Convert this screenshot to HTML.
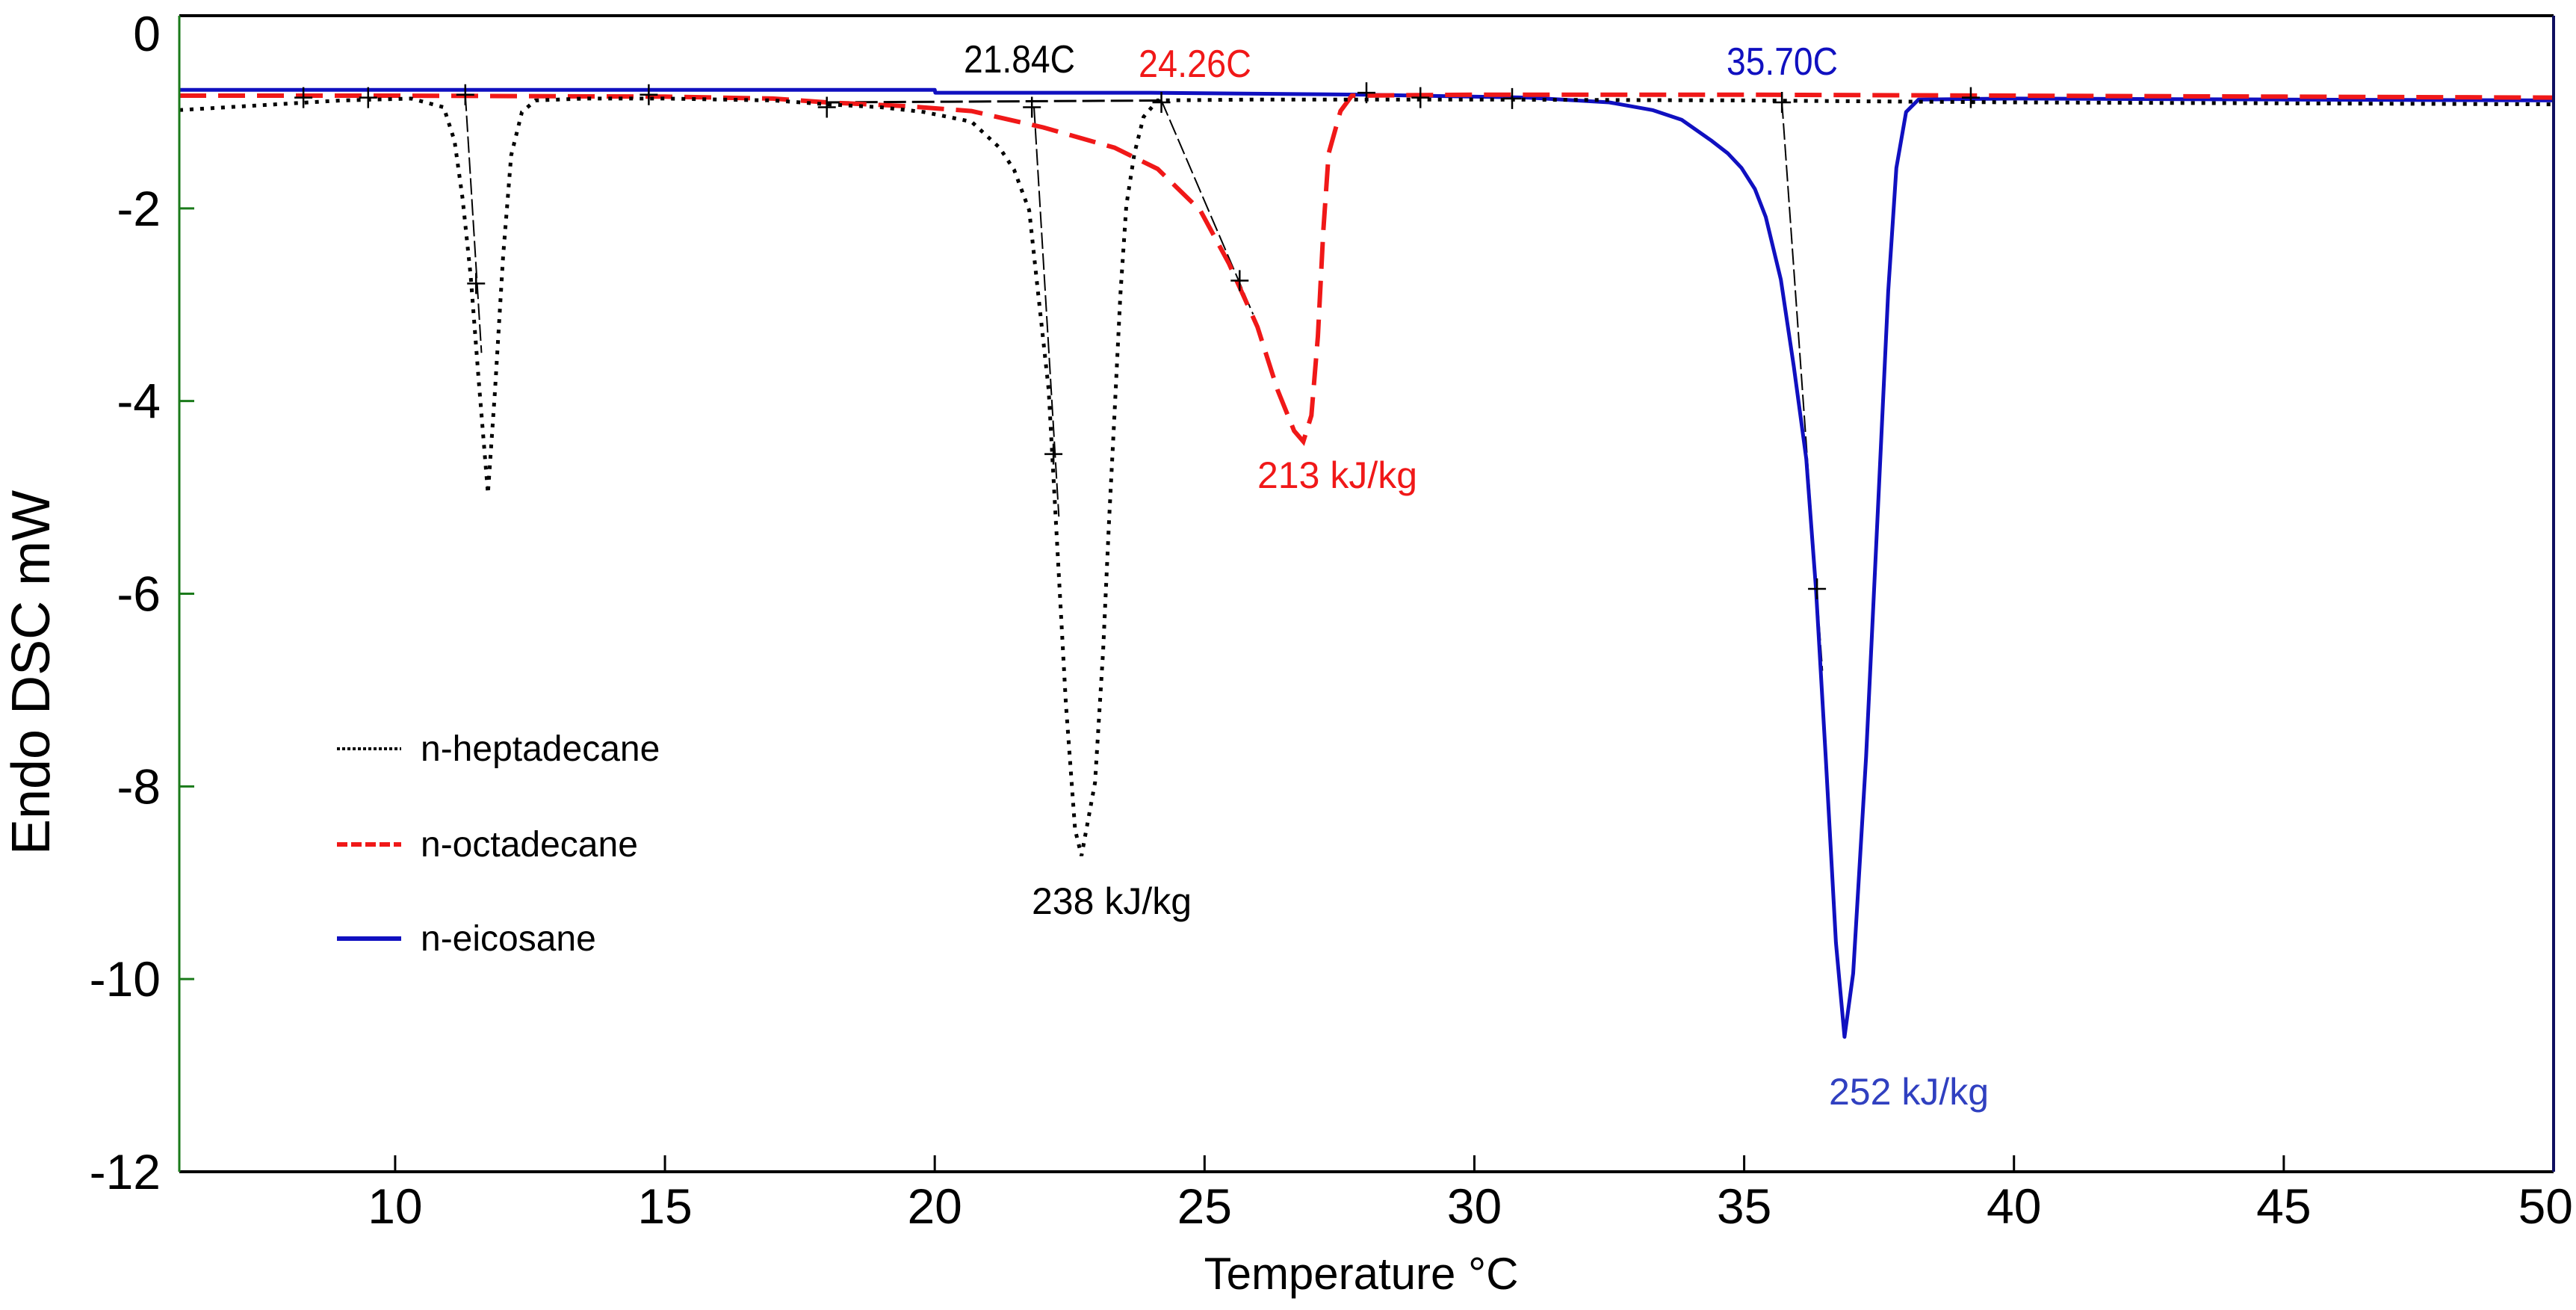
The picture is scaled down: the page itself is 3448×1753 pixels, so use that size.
<!DOCTYPE html>
<html><head><meta charset="utf-8"><style>
html,body{margin:0;padding:0;background:#fff;}
svg{display:block;font-family:"Liberation Sans",sans-serif;}
</style></head><body>
<svg id="chart" width="3448" height="1753" viewBox="0 0 3448 1753">
  <rect x="0" y="0" width="3448" height="1753" fill="#fff"/>
  <g id="plot"></g>
</svg>
<script>
// ---- data ----
const xTicks = [10, 15, 20, 25, 30, 35, 40, 45, 50];
const yTicks = [0, -2, -4, -6, -8, -10, -12];
const heptaT = [6, 7.5, 9, 10.3, 10.9, 11.1, 11.25, 11.4, 11.55, 11.72, 11.85, 12.0, 12.15, 12.35, 12.6, 13.5, 15, 17, 18, 19, 19.8, 20.68, 21.2, 21.47, 21.75, 21.9, 22.11, 22.27, 22.43, 22.6, 22.72, 22.97, 23.12, 23.23, 23.33, 23.44, 23.55, 23.7, 23.87, 24.13, 26, 30, 35, 40, 45, 50];
const heptaV = [-0.98, -0.93, -0.88, -0.86, -0.95, -1.3, -1.9, -2.7, -3.8, -4.96, -3.9, -2.5, -1.45, -1.0, -0.88, -0.86, -0.86, -0.88, -0.92, -0.95, -1.0, -1.1, -1.37, -1.6, -2.02, -2.8, -3.88, -5.5, -7.14, -8.45, -8.72, -7.96, -6.6, -5.24, -4.15, -2.9, -1.97, -1.43, -1.05, -0.88, -0.87, -0.87, -0.88, -0.9, -0.91, -0.92];
const octaT = [6, 10, 15, 17, 18, 19.5, 20.68, 22.01, 23.33, 24.13, 24.92, 25.45, 25.98, 26.35, 26.66, 26.83, 26.98, 27.1, 27.2, 27.3, 27.52, 27.73, 30, 35, 40, 45, 50];
const octaV = [-0.83, -0.83, -0.84, -0.86, -0.9, -0.94, -0.99, -1.16, -1.37, -1.59, -2.02, -2.57, -3.23, -3.88, -4.31, -4.42, -4.15, -3.33, -2.24, -1.43, -0.99, -0.83, -0.82, -0.82, -0.83, -0.84, -0.85];
const eicoT = [6, 20, 20.01, 24, 28, 31, 32.5, 33.3, 33.84, 34.4, 34.7, 34.95, 35.2, 35.4, 35.68, 35.92, 36.15, 36.33, 36.51, 36.7, 36.86, 37.02, 37.26, 37.48, 37.67, 37.82, 38.0, 38.23, 40, 45, 50];
const eicoV = [-0.77, -0.77, -0.8, -0.8, -0.82, -0.85, -0.9, -0.98, -1.08, -1.3, -1.43, -1.58, -1.8, -2.09, -2.74, -3.64, -4.6, -5.95, -7.69, -9.62, -10.6, -9.94, -7.69, -5.11, -2.86, -1.58, -1.0, -0.87, -0.86, -0.87, -0.88];
const crossT = [8.3, 9.5, 11.3, 11.5, 14.7, 18.0, 21.8, 22.2, 24.2, 25.65, 28.0, 29.0, 30.7, 35.7, 36.35, 39.2];
const crossV = [-0.85, -0.85, -0.82, -2.78, -0.82, -0.95, -0.95, -4.55, -0.9, -2.75, -0.8, -0.85, -0.86, -0.9, -5.95, -0.85];
const tangentT1 = [11.3, 21.84, 24.2, 35.7];
const tangentV1 = [-0.82, -0.95, -0.88, -0.9];
const tangentT2 = [11.6, 22.3, 25.9, 36.45];
const tangentV2 = [-3.5, -5.2, -3.1, -6.8];

// ---- axes ----
const L = 240, R = 3418, T = 21, B = 1568;
const xMin = 6, xMax = 50, yMin = -12, yMax = 0;
const xs = v => L + (v - xMin) / (xMax - xMin) * (R - L);
const ys = v => T + (yMax - v) / (yMax - yMin) * (B - T);
const NS = 'http://www.w3.org/2000/svg';
const plot = document.getElementById('plot');
function mk(tag, attrs, parent) {
  const e = document.createElementNS(NS, tag);
  for (const k in attrs) e.setAttribute(k, attrs[k]);
  (parent || plot).appendChild(e);
  return e;
}
function txt(s, attrs) { const e = mk('text', attrs); e.textContent = s; return e; }

// ticks
xTicks.forEach(t => {
  const l = mk('line', {x1: xs(t), x2: xs(t), y1: B, y2: B - 22, stroke: '#000', 'stroke-width': 3});
  
  
  const last = t === xMax;
  const tl = txt(String(t), {x: last ? 3444 : xs(t), y: 1637, 'font-size': 66, 'text-anchor': last ? 'end' : 'middle', fill: '#000'});
  
  
});
yTicks.forEach(t => {
  const l = mk('line', {x1: L, x2: L + 20, y1: ys(t), y2: ys(t), stroke: '#1a7a1a', 'stroke-width': 3});
  
  
  const tl = txt(String(t), {x: 215, y: Math.max(ys(t) + 23, 68), 'font-size': 66, 'text-anchor': 'end', fill: '#000'});
  
  
});

// construction (tangent) lines
tangentT1.forEach((t, i) => {
  const l = mk('line', {x1: xs(t), y1: ys(tangentV1[i]), x2: xs(tangentT2[i]), y2: ys(tangentV2[i]), stroke: '#000', 'stroke-width': 2, 'stroke-dasharray': '22 6'});
  
  
});
const bl = mk('line', {x1: xs(18), y1: ys(-0.9), x2: xs(24.3), y2: ys(-0.88), stroke: '#000', 'stroke-width': 3, 'stroke-dasharray': '30 8'});



// series
function path(Ts, Vs) { return Ts.map((t, i) => (i ? 'L' : 'M') + xs(t).toFixed(1) + ' ' + ys(Vs[i]).toFixed(1)).join(' '); }
const pb = mk('path', {d: path(eicoT, eicoV), fill: 'none', stroke: '#1010c0', 'stroke-width': 5, 'stroke-linejoin': 'round'});


const pr = mk('path', {d: path(octaT, octaV), fill: 'none', stroke: '#f01818', 'stroke-width': 6, 'stroke-dasharray': '36 16'});


const ph = mk('path', {d: path(heptaT, heptaV), fill: 'none', stroke: '#000', 'stroke-width': 5, 'stroke-dasharray': '5 9'});



// crosses
crossT.forEach((t, i) => {
  const cx = xs(t), cy = ys(crossV[i]);
  const c = mk('path', {d: `M${cx-12} ${cy}H${cx+12}M${cx} ${cy-14}V${cy+14}`, stroke: '#000', 'stroke-width': 2.5, fill: 'none'});
  
  
});

// frame
const fr = mk('g', {});


mk('line', {x1: L, x2: R, y1: T, y2: T, stroke: '#000', 'stroke-width': 4}, fr);
mk('line', {x1: L, x2: R, y1: B, y2: B, stroke: '#000', 'stroke-width': 4}, fr);
mk('line', {x1: L, x2: L, y1: T, y2: B, stroke: '#1a7a1a', 'stroke-width': 3}, fr);
mk('line', {x1: R, x2: R, y1: T, y2: B, stroke: '#101060', 'stroke-width': 4}, fr);

// annotations
const ann = [
  ['21.84C', 1290, 97, '#000', 149, 'onset-label-heptadecane'],
  ['24.26C', 1524, 103, '#f01818', 151, 'onset-label-octadecane'],
  ['35.70C', 2311, 100, '#1010c0', 149, 'onset-label-eicosane']
];
ann.forEach(a => {
  const e = txt(a[0], {x: a[1], y: a[2], fill: a[3], 'font-size': 52, textLength: a[4], lengthAdjust: 'spacingAndGlyphs'});
  
  
});
const enth = [
  ['238 kJ/kg', 1381, 1223, '#000', 'enthalpy-label-heptadecane'],
  ['213 kJ/kg', 1683, 653, '#f01818', 'enthalpy-label-octadecane'],
  ['252 kJ/kg', 2448, 1478, '#3040c0', 'enthalpy-label-eicosane']
];
enth.forEach(a => {
  const e = txt(a[0], {x: a[1], y: a[2], fill: a[3], 'font-size': 50});
  
  
});

// legend
const leg = [
  ['n-heptadecane', 1002, '#000', '4 3', 4, 'legend-entry-heptadecane'],
  ['n-octadecane', 1130, '#f01818', '14 5', 6, 'legend-entry-octadecane'],
  ['n-eicosane', 1256, '#1010c0', 'none', 6, 'legend-entry-eicosane']
];
leg.forEach(a => {
  const g = mk('g', {});
  
  
  mk('line', {x1: 451, x2: 537, y1: a[1], y2: a[1], stroke: a[2], 'stroke-width': a[4], 'stroke-dasharray': a[3]}, g);
  const t = document.createElementNS(NS, 'text');
  t.setAttribute('x', 563); t.setAttribute('y', a[1] + 16);
  t.setAttribute('font-size', 48); t.setAttribute('fill', '#000');
  t.textContent = a[0];
  g.appendChild(t);
});

// axis titles
const xt = txt('Temperature °C', {x: 1822, y: 1725, 'font-size': 60, 'text-anchor': 'middle', fill: '#000'});


const yt = txt('Endo DSC mW', {x: 0, y: 0, 'font-size': 72, 'text-anchor': 'middle', fill: '#000', transform: 'translate(66 900) rotate(-90)'});


</script>
</body></html>
